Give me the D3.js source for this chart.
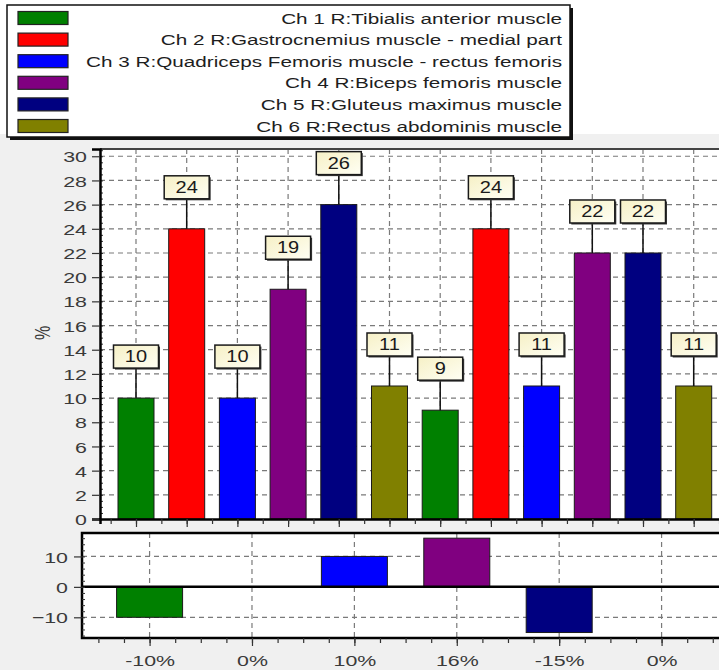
<!DOCTYPE html>
<html>
<head>
<meta charset="utf-8">
<script src="https://cdn.jsdelivr.net/npm/d3@7/dist/d3.min.js"></script>
<style>
  body { margin: 0; background: #ffffff; }
  text { font-family: "Liberation Sans", Arial, sans-serif; }
</style>
</head>
<body>
<svg id="chart" width="719" height="670"></svg>
<script>
// Channel names shown in the legend
const channels = [
  "Ch 1 R:Tibialis anterior muscle",
  "Ch 2 R:Gastrocnemius muscle - medial part",
  "Ch 3 R:Quadriceps Femoris muscle - rectus femoris",
  "Ch 4 R:Biceps femoris muscle",
  "Ch 5 R:Gluteus maximus muscle",
  "Ch 6 R:Rectus abdominis muscle"
];
const channelColors = ["#008000", "#ff0000", "#0000ff", "#800080", "#000080", "#808000"];

// Share per channel (%) for the first and second measurement
const firstValues  = [10, 24, 10, 19, 26, 11];
const secondValues = [9, 24, 11, 22, 22, 11];

// Change between the two measurements (%)
const changeValues = [-10, 0, 10, 16, -15, 0];
const changeLabels = ["-10%", "0%", "10%", "16%", "-15%", "0%"];

// Axis ticks
const yTicks = d3.range(0, 31, 2);
const changeTicks = [-10, 0, 10];

const svg = d3.select("#chart");
const W = 719, H = 670;
const FONT = 15;        // base font size
const WIDEN = 1.38;     // horizontal widening of all lettering
const TEXT_COL = "#3a3a3a";

// ---- background ----
svg.append("rect").attr("width", W).attr("height", H).attr("fill", "#f0f0f0");
svg.append("rect").attr("width", W).attr("height", 134).attr("fill", "#ffffff");

// ---- scales ----
const upper = { left: 100, top: 149, bottom: 519, right: 745 };
const lower = { left: 82, top: 533, bottom: 638, right: 765 };
const slot = 50.7;
const groupSlot = 102.4;

const allValues = firstValues.concat(secondValues);
const allColors = channelColors.concat(channelColors);

const xUp = d3.scaleLinear()
  .domain([-0.71, (upper.right - upper.left) / slot - 0.71])
  .range([upper.left, upper.right]);
const yUp = d3.scaleLinear().domain([0, 30.6]).range([upper.bottom, upper.top]);

const xLow = d3.scaleLinear()
  .domain([-0.66, (lower.right - lower.left) / groupSlot - 0.66])
  .range([lower.left, lower.right]);
const yLow = d3.scaleLinear().domain([-16.8, 17.7]).range([lower.bottom, lower.top]);

// widen axis tick labels around their anchor point
function widenLeftLabels(g, gap) {
  g.selectAll("text")
    .attr("x", -gap / WIDEN).attr("dy", "0.36em")
    .attr("transform", `scale(${WIDEN},1)`)
    .attr("font-size", FONT + 0.5).attr("fill", TEXT_COL)
    .attr("font-family", "'Liberation Sans', Arial, sans-serif");
}
function widenBottomLabels(g) {
  g.selectAll("text")
    .attr("transform", `scale(${WIDEN},1)`)
    .attr("font-size", FONT + 0.5).attr("fill", TEXT_COL)
    .attr("font-family", "'Liberation Sans', Arial, sans-serif");
}

// ---- upper panel ----
const up = svg.append("g");
up.append("rect")
  .attr("x", upper.left).attr("y", upper.top)
  .attr("width", upper.right - upper.left).attr("height", upper.bottom - upper.top)
  .attr("fill", "#ffffff");

const gridStyle = sel => sel.attr("stroke", "#7a7a7a").attr("stroke-width", 1.2).attr("stroke-dasharray", "5,4");

// horizontal grid
up.selectAll("line.hgrid").data(yTicks.filter(d => d > 0)).join("line")
  .attr("class", "hgrid")
  .attr("x1", upper.left).attr("x2", upper.right)
  .attr("y1", d => yUp(d)).attr("y2", d => yUp(d))
  .call(gridStyle);
// vertical grid at every bar position
up.selectAll("line.vgrid").data(d3.range(allValues.length)).join("line")
  .attr("class", "vgrid")
  .attr("x1", d => xUp(d)).attr("x2", d => xUp(d))
  .attr("y1", upper.top).attr("y2", upper.bottom)
  .call(gridStyle);

// bars
const barW = 36;
up.selectAll("rect.bar").data(allValues).join("rect")
  .attr("class", "bar")
  .attr("x", (d, i) => xUp(i) - barW / 2)
  .attr("y", d => yUp(d))
  .attr("width", barW)
  .attr("height", d => yUp(0) - yUp(d))
  .attr("fill", (d, i) => allColors[i])
  .attr("stroke", "#1a1a1a").attr("stroke-width", 1);

// value labels: callout box joined to the bar top by a leader line
const defs = svg.append("defs");
const grad = defs.append("linearGradient").attr("id", "boxFill")
  .attr("x1", "0").attr("y1", "0").attr("x2", "1").attr("y2", "1");
grad.append("stop").attr("offset", "0").attr("stop-color", "#f6f0c6");
grad.append("stop").attr("offset", "1").attr("stop-color", "#fffff4");

const boxW = 45, boxH = 23, lift = 30;
const labels = up.selectAll("g.vlabel").data(allValues).join("g").attr("class", "vlabel");
labels.append("line")
  .attr("x1", (d, i) => xUp(i)).attr("x2", (d, i) => xUp(i))
  .attr("y1", d => yUp(d)).attr("y2", d => yUp(d) - lift)
  .attr("stroke", "#111").attr("stroke-width", 1.5);
labels.append("rect")
  .attr("x", (d, i) => xUp(i) - boxW / 2 + 1.5)
  .attr("y", d => yUp(d) - lift - boxH + 1.5)
  .attr("width", boxW).attr("height", boxH)
  .attr("fill", "#3a3a3a");
labels.append("rect")
  .attr("x", (d, i) => xUp(i) - boxW / 2)
  .attr("y", d => yUp(d) - lift - boxH)
  .attr("width", boxW).attr("height", boxH)
  .attr("fill", "url(#boxFill)")
  .attr("stroke", "#1a1a1a").attr("stroke-width", 1.5);
labels.append("text")
  .attr("transform", (d, i) => `translate(${xUp(i)},${yUp(d) - lift - boxH / 2 + 5.5}) scale(1.25,1)`)
  .attr("text-anchor", "middle")
  .attr("font-size", FONT + 1).attr("fill", "#1a1a1a")
  .text(d => d);

// frame
up.append("line").attr("x1", upper.left).attr("x2", upper.right)
  .attr("y1", upper.top).attr("y2", upper.top)
  .attr("stroke", "#444").attr("stroke-width", 2);

// y axis (major + minor ticks)
const yAxisMinor = d3.axisLeft(yUp).tickValues(d3.range(0, 30.51, 0.5)).tickSize(-3).tickFormat("");
up.append("g").attr("transform", `translate(${upper.left},0)`).call(yAxisMinor)
  .call(g => g.select(".domain").remove())
  .call(g => g.selectAll("line").attr("stroke", "#333").attr("stroke-width", 1));
const yAxis = d3.axisLeft(yUp).tickValues(yTicks).tickSize(8);
up.append("g").attr("transform", `translate(${upper.left},0)`).call(yAxis)
  .call(g => g.select(".domain").attr("stroke", "#000").attr("stroke-width", 2.5))
  .call(g => g.selectAll("line").attr("stroke", "#333").attr("stroke-width", 1.2))
  .call(g => widenLeftLabels(g, 13));

// x axis of the upper panel (no labels)
const xUpMinor = d3.axisBottom(xUp).tickValues(d3.range(-0.5, 12, 0.5)).tickSize(5).tickFormat("");
up.append("g").attr("transform", `translate(0,${upper.bottom})`).call(xUpMinor)
  .call(g => g.select(".domain").attr("stroke", "#000").attr("stroke-width", 2.5))
  .call(g => g.selectAll("line").attr("stroke", "#333").attr("stroke-width", 1.2));
const xUpMajor = d3.axisBottom(xUp).tickValues(d3.range(0, 12)).tickSize(8).tickFormat("");
up.append("g").attr("transform", `translate(0,${upper.bottom})`).call(xUpMajor)
  .call(g => g.select(".domain").remove())
  .call(g => g.selectAll("line").attr("stroke", "#333").attr("stroke-width", 1.2));

// y axis title
svg.append("text")
  .attr("transform", `translate(50,${(upper.top + upper.bottom) / 2 - 1}) scale(${WIDEN},1) rotate(-90)`)
  .attr("text-anchor", "middle").attr("font-size", FONT + 1).attr("fill", TEXT_COL)
  .text("%");

// ---- lower panel ----
const lo = svg.append("g");
lo.append("rect")
  .attr("x", lower.left).attr("y", lower.top)
  .attr("width", lower.right - lower.left).attr("height", lower.bottom - lower.top)
  .attr("fill", "#ffffff");

lo.selectAll("line.hgrid").data(changeTicks.filter(d => d !== 0)).join("line")
  .attr("class", "hgrid")
  .attr("x1", lower.left).attr("x2", lower.right)
  .attr("y1", d => yLow(d)).attr("y2", d => yLow(d))
  .call(gridStyle);
lo.selectAll("line.vgrid").data(d3.range(changeValues.length)).join("line")
  .attr("class", "vgrid")
  .attr("x1", d => xLow(d)).attr("x2", d => xLow(d))
  .attr("y1", lower.top).attr("y2", lower.bottom)
  .call(gridStyle);

const lowBarW = 66;
lo.selectAll("rect.bar").data(changeValues).join("rect")
  .attr("class", "bar")
  .attr("x", (d, i) => xLow(i) - lowBarW / 2)
  .attr("y", d => yLow(Math.max(0, d)))
  .attr("width", lowBarW)
  .attr("height", d => Math.abs(yLow(d) - yLow(0)))
  .attr("fill", (d, i) => channelColors[i])
  .attr("stroke", "#1a1a1a").attr("stroke-width", 1);

// zero line
lo.append("line").attr("x1", lower.left).attr("x2", lower.right)
  .attr("y1", yLow(0)).attr("y2", yLow(0))
  .attr("stroke", "#000").attr("stroke-width", 2.5);

// frame
lo.append("rect")
  .attr("x", lower.left).attr("y", lower.top)
  .attr("width", lower.right - lower.left).attr("height", lower.bottom - lower.top)
  .attr("fill", "none").attr("stroke", "#000").attr("stroke-width", 2.5);

// y axis
const yLowMinor = d3.axisLeft(yLow).tickValues(d3.range(-16, 17.1, 2)).tickSize(-3).tickFormat("");
lo.append("g").attr("transform", `translate(${lower.left},0)`).call(yLowMinor)
  .call(g => g.select(".domain").remove())
  .call(g => g.selectAll("line").attr("stroke", "#333"));
const yLowAxis = d3.axisLeft(yLow).tickValues(changeTicks).tickSize(8);
lo.append("g").attr("transform", `translate(${lower.left},0)`).call(yLowAxis)
  .call(g => g.select(".domain").remove())
  .call(g => g.selectAll("line").attr("stroke", "#333").attr("stroke-width", 1.2))
  .call(g => widenLeftLabels(g, 14));

// x axis with change labels
const xLowMinor = d3.axisBottom(xLow).tickValues(d3.range(-0.5, 6, 0.25)).tickSize(5).tickFormat("");
lo.append("g").attr("transform", `translate(0,${lower.bottom})`).call(xLowMinor)
  .call(g => g.select(".domain").remove())
  .call(g => g.selectAll("line").attr("stroke", "#333").attr("stroke-width", 1.2));
const xLowAxis = d3.axisBottom(xLow).tickValues(d3.range(changeLabels.length))
  .tickSize(8).tickPadding(9).tickFormat(i => changeLabels[i]);
lo.append("g").attr("transform", `translate(0,${lower.bottom})`).call(xLowAxis)
  .call(g => g.select(".domain").remove())
  .call(g => g.selectAll("line").attr("stroke", "#333").attr("stroke-width", 1.2))
  .call(widenBottomLabels);

// ---- legend ----
const leg = svg.append("g");
const legBox = { x: 7, y: 5, w: 563, h: 132 };
leg.append("rect").attr("x", legBox.x + 3).attr("y", legBox.y + 3)
  .attr("width", legBox.w).attr("height", legBox.h).attr("fill", "#111");
leg.append("rect").attr("x", legBox.x).attr("y", legBox.y)
  .attr("width", legBox.w).attr("height", legBox.h)
  .attr("fill", "#ffffff").attr("stroke", "#111").attr("stroke-width", 1.5);

const rowY = d3.scaleLinear().domain([0, 5]).range([18, 126]);
const rows = leg.selectAll("g.row").data(channels).join("g").attr("class", "row");
rows.append("rect")
  .attr("x", 18).attr("y", (d, i) => rowY(i) - 6.5)
  .attr("width", 50).attr("height", 13)
  .attr("fill", (d, i) => channelColors[i])
  .attr("stroke", "#222").attr("stroke-width", 1.2);
rows.append("text")
  .attr("transform", (d, i) => `translate(562,${rowY(i) + 5.5}) scale(${WIDEN},1)`)
  .attr("text-anchor", "end")
  .attr("font-size", FONT).attr("fill", "#1e1e1e")
  .text(d => d);
</script>
</body>
</html>
